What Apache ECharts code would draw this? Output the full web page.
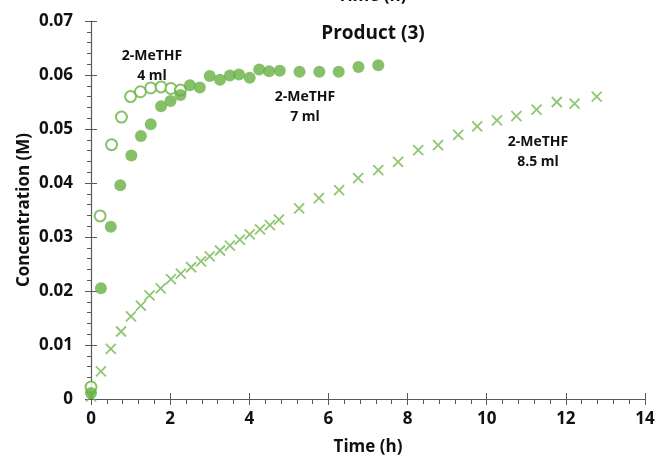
<!DOCTYPE html>
<html>
<head>
<meta charset="utf-8">
<script src="https://cdn.jsdelivr.net/npm/echarts@6/dist/echarts.min.js"></script>
<style>
  html, body { margin: 0; padding: 0; background: #fff; }
  #main { width: 659px; height: 461px; }
</style>
</head>
<body>
<div id="main"></div>
<script>
// 2-MeTHF 4 ml (open circles)
const open4 = [
  [0, 0.0022], [0.23, 0.0339], [0.52, 0.0471], [0.77, 0.0522], [1.0, 0.056],
  [1.25, 0.0569], [1.51, 0.0576], [1.77, 0.0578], [2.02, 0.0575], [2.26, 0.0572]
];
// 2-MeTHF 7 ml (filled circles)
const filled7 = [
  [0, 0.0011], [0.25, 0.0205], [0.5, 0.0319], [0.74, 0.0396], [1.02, 0.0451],
  [1.26, 0.0487], [1.51, 0.0509], [1.77, 0.0542], [2.01, 0.0552], [2.26, 0.0563],
  [2.5, 0.0581], [2.75, 0.0577], [3.0, 0.0598], [3.26, 0.0591], [3.51, 0.0599],
  [3.74, 0.0601], [4.01, 0.0595], [4.25, 0.061], [4.5, 0.0607], [4.77, 0.0608],
  [5.27, 0.0606], [5.77, 0.0606], [6.26, 0.0606], [6.76, 0.0615], [7.26, 0.0618]
];
// 2-MeTHF 8.5 ml (crosses)
const cross85 = [
  [0, 0.0005], [0.25, 0.0051], [0.5, 0.0093], [0.76, 0.0125], [1.01, 0.0153],
  [1.26, 0.0173], [1.48, 0.0192], [1.76, 0.0205], [2.02, 0.0222], [2.27, 0.0232],
  [2.53, 0.0244], [2.78, 0.0255], [3.0, 0.0264], [3.26, 0.0275], [3.51, 0.0284],
  [3.76, 0.0295], [4.01, 0.0305], [4.27, 0.0314], [4.52, 0.0322], [4.75, 0.0332],
  [5.26, 0.0353], [5.76, 0.0372], [6.27, 0.0387], [6.75, 0.0409], [7.26, 0.0424],
  [7.76, 0.0439], [8.27, 0.0461], [8.77, 0.047], [9.28, 0.0489], [9.76, 0.0505],
  [10.26, 0.0516], [10.75, 0.0524], [11.26, 0.0536], [11.77, 0.055], [12.22, 0.0547],
  [12.78, 0.056]
];

const font = "Open Sans";
const axisColor = "#595959";
const green = "#68b144";
const crossGreen = "#74b84f";

const myChart = echarts.init(document.getElementById("main"));

// label text next to each curve
function note(text, x, y) {
  return {
    type: "text",
    x: x,
    y: y,
    style: {
      text: text,
      font: "bold 14px 'Open Sans'",
      fill: "#111",
      align: "center",
      verticalAlign: "middle",
      lineHeight: 20,
    },
  };
}

const option = {
  animation: false,
  textStyle: { fontFamily: font },
  graphic: [
    {
      type: "text",
      x: 372,
      y: -12,
      style: { text: "Time (h)", font: "bold 17px 'Open Sans'", fill: "#111", align: "center" },
    },
    {
      type: "text",
      x: 373,
      y: 34,
      style: { text: "Product (3)", font: "bold 19px 'Open Sans'", fill: "#111", align: "center", verticalAlign: "middle" },
    },
    {
      type: "text",
      x: 24,
      y: 210,
      rotation: Math.PI / 2,
      style: { text: "Concentration (M)", font: "bold 17px 'Open Sans'", fill: "#111", align: "center", verticalAlign: "middle" },
    },
    note("2-MeTHF\n4 ml", 152, 66),
    note("2-MeTHF\n7 ml", 305, 107),
    note("2-MeTHF\n8.5 ml", 538, 152),
  ],
  grid: { left: 91, right: 14, top: 21, bottom: 62, containLabel: false },
  xAxis: [
    {
      type: "value",
      min: 0,
      max: 14,
      interval: 2,
      name: "Time (h)",
      nameLocation: "middle",
      nameGap: 40,
      nameTextStyle: { fontFamily: font, fontWeight: "bold", fontSize: 17, color: "#111" },
      axisLine: { onZero: false, lineStyle: { color: axisColor, width: 1.2 } },
      axisTick: { show: true, length: 6, lineStyle: { color: axisColor } },
      minorTick: { show: true, splitNumber: 5, length: 5, lineStyle: { color: axisColor } },
      axisLabel: { margin: 12, fontFamily: font, fontWeight: "bold", fontSize: 17, color: "#111" },
      splitLine: { show: false },
    },
    {
      type: "value",
      min: 0,
      max: 14,
      interval: 2,
      position: "bottom",
      axisLine: { show: false },
      axisTick: { show: true, inside: true, length: 6, lineStyle: { color: axisColor } },
      axisLabel: { show: false },
      splitLine: { show: false },
    },
  ],
  yAxis: [
    {
      type: "value",
      min: 0,
      max: 0.07,
      interval: 0.01,
      axisLine: { show: true, lineStyle: { color: axisColor, width: 1.2 } },
      axisTick: { show: true, length: 6, lineStyle: { color: axisColor } },
      minorTick: { show: true, splitNumber: 5, length: 4, lineStyle: { color: axisColor } },
      axisLabel: { margin: 18, fontFamily: font, fontWeight: "bold", fontSize: 17, color: "#111" },
      splitLine: { show: false },
    },
    {
      type: "value",
      min: 0,
      max: 0.07,
      interval: 0.01,
      position: "left",
      axisLine: { show: false },
      axisTick: { show: true, inside: true, length: 6, lineStyle: { color: axisColor } },
      axisLabel: { show: false },
      splitLine: { show: false },
    },
  ],
  series: [
    {
      name: "2-MeTHF 8.5 ml",
      type: "scatter",
      data: cross85,
      symbol: "path://M0,0 L10,10 M10,0 L0,10",
      symbolSize: 10,
      itemStyle: { color: "none", borderColor: crossGreen, borderWidth: 1.8 },
    },
    {
      name: "2-MeTHF 4 ml",
      type: "scatter",
      data: open4,
      symbol: "circle",
      symbolSize: 11,
      itemStyle: { color: "#fff", borderColor: green, borderWidth: 2 },
    },
    {
      name: "2-MeTHF 7 ml",
      type: "scatter",
      data: filled7,
      symbol: "circle",
      symbolSize: 12,
      itemStyle: { color: green },
    },
  ],
};

myChart.setOption(option);
</script>
</body>
</html>
